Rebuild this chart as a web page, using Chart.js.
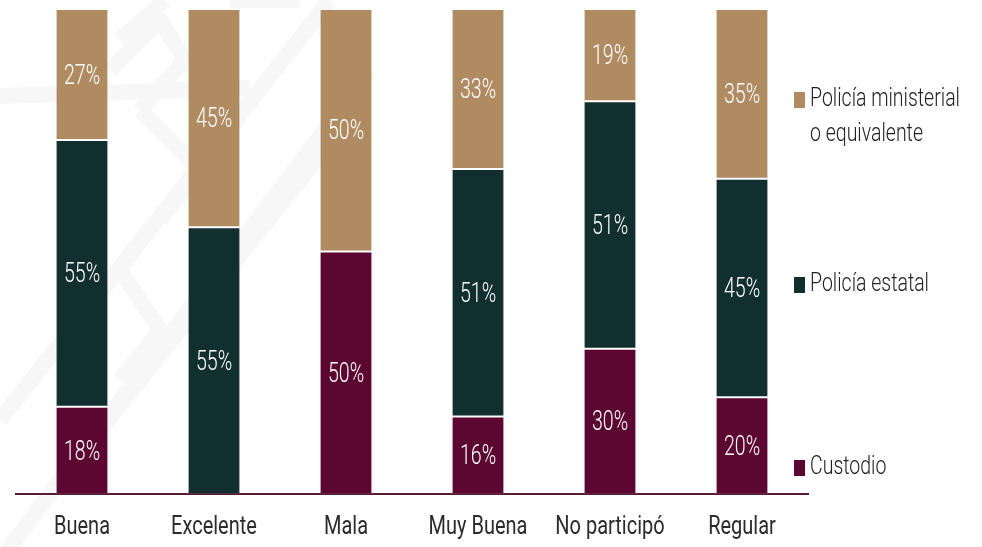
<!DOCTYPE html>
<html>
<head>
<meta charset="utf-8">
<script src="https://cdn.jsdelivr.net/npm/chart.js@4/dist/chart.umd.min.js"></script>
<style>
  html, body { margin: 0; padding: 0; background: #ffffff; }
  #wrap { width: 982px; height: 547px; position: relative; }
</style>
</head>
<body>
<div id="wrap"><canvas id="c" width="982" height="547"></canvas></div>
<script>
const categories = ["Buena", "Excelente", "Mala", "Muy Buena", "No participó", "Regular"];
const seriesNames = ["Custodio", "Policía estatal", "Policía ministerial o equivalente"];
const custodio = [18, 0, 50, 16, 30, 20];
const policiaEstatal = [55, 55, 0, 51, 51, 45];
const policiaMinisterial = [27, 45, 50, 33, 19, 35];
const legendLines = [["Custodio"], ["Policía estatal"], ["Policía ministerial", "o equivalente"]];

const colors = ["#5c0632", "#122f30", "#b08b61"];

const watermark = {
  id: 'watermark',
  beforeDraw(chart) {
    const ctx = chart.ctx;
    ctx.save();
    ctx.strokeStyle = 'rgba(0,0,0,0.03)';
    ctx.lineWidth = 16;
    ctx.lineJoin = 'round';
    ctx.beginPath();
    ctx.moveTo(0, 96); ctx.lineTo(250, 88);
    ctx.moveTo(0, 420); ctx.lineTo(330, 0);
    ctx.moveTo(0, 560); ctx.lineTo(370, 70);
    ctx.moveTo(60, 480); ctx.lineTo(340, 130);
    ctx.moveTo(120, 40); ctx.lineTo(165, 0);
    ctx.moveTo(110, 70); ctx.lineTo(160, 20); ctx.lineTo(185, 60); ctx.lineTo(140, 110);
    ctx.moveTo(140, 110); ctx.lineTo(200, 170); ctx.lineTo(160, 220);
    ctx.moveTo(120, 270); ctx.lineTo(160, 330); ctx.lineTo(120, 380);
    ctx.moveTo(230, 0); ctx.lineTo(300, 0);
    ctx.stroke();
    ctx.restore();
  }
};

const barLabels = {
  id: 'barLabels',
  afterDatasetsDraw(chart) {
    const ctx = chart.ctx;
    ctx.save();
    ctx.fillStyle = '#ffffff';
    ctx.font = '300 28px Roboto, "DejaVu Sans", sans-serif';
    ctx.textAlign = 'center';
    ctx.textBaseline = 'middle';
    chart.data.datasets.forEach((ds, di) => {
      const meta = chart.getDatasetMeta(di);
      meta.data.forEach((bar, i) => {
        const v = ds.data[i];
        if (!v) return;
        const y = (bar.y + bar.base) / 2 + 2;
        ctx.save();
        ctx.translate(bar.x, y);
        ctx.scale(0.7, 1);
        ctx.fillText(v + '%', 0, 0);
        ctx.restore();
      });
    });
    ctx.restore();
  }
};

// Category labels drawn condensed at the x scale's own tick positions
const condensedTicks = {
  id: 'condensedTicks',
  afterDraw(chart) {
    const ctx = chart.ctx;
    const xs = chart.scales.x;
    ctx.save();
    ctx.fillStyle = '#2b2b2b';
    ctx.font = '25px Roboto, sans-serif';
    ctx.textAlign = 'center';
    ctx.textBaseline = 'middle';
    chart.data.labels.forEach((lab, i) => {
      const x = xs.getPixelForValue(i);
      ctx.save();
      ctx.translate(x, chart.chartArea.bottom + 34);
      ctx.scale(0.8, 1);
      ctx.fillText(lab, 0, 0);
      ctx.restore();
    });
    ctx.restore();
  }
};

const sideLegend = {
  id: 'sideLegend',
  afterDraw(chart) {
    const ctx = chart.ctx;
    const area = chart.chartArea;
    const positions = [468, 285, 100];
    ctx.save();
    ctx.textBaseline = 'middle';
    ctx.textAlign = 'left';
    ctx.font = '300 25px Roboto, "DejaVu Sans", sans-serif';
    legendLines.forEach((lines, i) => {
      const y = positions[i];
      ctx.fillStyle = colors[i];
      ctx.fillRect(area.right - 14, y - 8, 11, 16);
      ctx.fillStyle = '#222222';
      lines.forEach((t, k) => {
        ctx.save();
        ctx.translate(area.right + 2, y + k * 35);
        ctx.scale(0.78, 1);
        ctx.fillText(t, 0, 0);
        ctx.restore();
      });
    });
    ctx.restore();
  }
};

new Chart(document.getElementById('c'), {
  type: 'bar',
  data: {
    labels: categories,
    datasets: [
      { label: seriesNames[0], data: custodio, backgroundColor: colors[0] },
      { label: seriesNames[1], data: policiaEstatal, backgroundColor: colors[1] },
      { label: seriesNames[2], data: policiaMinisterial, backgroundColor: colors[2] }
    ].map(d => Object.assign(d, { borderColor: 'rgba(255,255,255,0.12)', borderWidth: 1, borderSkipped: false, barPercentage: 0.4, categoryPercentage: 1 }))
  },
  options: {
    responsive: false,
    animation: false,
    devicePixelRatio: 1,
    layout: { padding: { left: 16, right: 174, top: 9, bottom: -16 } },
    plugins: { legend: { display: false }, tooltip: { enabled: false } },
    scales: {
      x: {
        stacked: true,
        grid: { display: false, drawTicks: false },
        border: { display: true, color: '#5a1a37', width: 2 },
        ticks: { color: 'rgba(0,0,0,0)', padding: 20, maxRotation: 0, minRotation: 0, autoSkip: false, font: { family: 'Roboto, sans-serif', size: 24 } }
      },
      y: { stacked: true, display: false, min: 0, max: 100 }
    }
  },
  plugins: [watermark, barLabels, condensedTicks, sideLegend]
});
</script>
</body>
</html>
